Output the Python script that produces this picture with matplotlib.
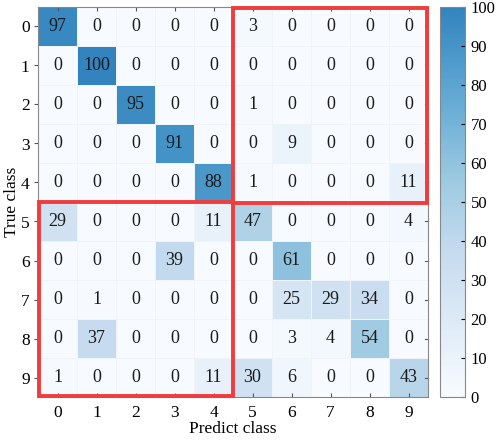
import numpy as np
import matplotlib
matplotlib.use("Agg")
from matplotlib import pyplot as plt
from matplotlib.colors import LinearSegmentedColormap
from matplotlib.patches import Rectangle

# confusion matrix (percent), rows = true class, cols = predicted class
classes = ['0', '1', '2', '3', '4', '5', '6', '7', '8', '9']
row0 = [97, 0, 0, 0, 0, 3, 0, 0, 0, 0]
row1 = [0, 100, 0, 0, 0, 0, 0, 0, 0, 0]
row2 = [0, 0, 95, 0, 0, 1, 0, 0, 0, 0]
row3 = [0, 0, 0, 91, 0, 0, 9, 0, 0, 0]
row4 = [0, 0, 0, 0, 88, 1, 0, 0, 0, 11]
row5 = [29, 0, 0, 0, 11, 47, 0, 0, 0, 4]
row6 = [0, 0, 0, 39, 0, 0, 61, 0, 0, 0]
row7 = [0, 1, 0, 0, 0, 0, 25, 29, 34, 0]
row8 = [0, 37, 0, 0, 0, 0, 3, 4, 54, 0]
row9 = [1, 0, 0, 0, 11, 30, 6, 0, 0, 43]
cm = np.array([row0, row1, row2, row3, row4, row5, row6, row7, row8, row9])

plt.rcParams['font.family'] = ['Liberation Serif', 'DejaVu Serif']

# lighter part of Blues
blues = plt.get_cmap('Blues')
cmap = LinearSegmentedColormap.from_list('blues_cut', blues(np.linspace(0, 0.68, 256)))

fig = plt.figure(figsize=(4.98, 4.40), dpi=100)
ax = fig.add_axes([38/498, 43/440, 390/498, 390/440])
cax = fig.add_axes([440/498, 43/440, 25/498, 390/440])

mesh = ax.pcolormesh(np.arange(11) - 0.5, np.arange(11) - 0.5, cm, cmap=cmap,
                     vmin=0, vmax=100, edgecolors='#f0f4f8', linewidth=0.6)
ax.set_xlim(-0.5, 9.5)
ax.set_ylim(9.5, -0.5)

for i in range(10):
    for j in range(10):
        ax.text(j, i, str(cm[i, j]), ha='center', va='center', fontsize=13, color='#1a1a1a')

ax.set_xticks(range(10))
ax.set_xticklabels(classes, fontsize=12.5)
ax.set_yticks(range(10))
ax.set_yticklabels(classes, fontsize=12.5)
ax.tick_params(axis='x', direction='in', top=True, length=3, color='#555555', pad=6)
ax.tick_params(axis='y', direction='out', right=False, length=3, color='#555555', pad=3)
ax.yaxis.set_ticks_position('left')
for t in range(10):
    ax.plot([9.5, 9.42], [t, t], color='#555555', lw=0.8, clip_on=False)
ax.set_xlabel('Predict class', fontsize=12.5, labelpad=0)
ax.set_ylabel('True class', fontsize=12.5, labelpad=1)
for s in ax.spines.values():
    s.set_color('#888888')
    s.set_linewidth(0.8)

# red boxes
ax.add_patch(Rectangle((4.5, -0.48), 4.97, 5.0, fill=False, edgecolor='#f03c3c', lw=2.8, clip_on=False, zorder=5))
ax.add_patch(Rectangle((-0.48, 4.5), 4.98, 4.97, fill=False, edgecolor='#f03c3c', lw=2.8, clip_on=False, zorder=5))

cb = fig.colorbar(mesh, cax=cax)
cb.set_ticks(range(0, 101, 10))
cb.ax.tick_params(direction='in', length=3, labelsize=12, pad=4)
cb.outline.set_edgecolor('#888888')
cb.outline.set_linewidth(0.8)

fig.savefig('out.png', dpi=100)
